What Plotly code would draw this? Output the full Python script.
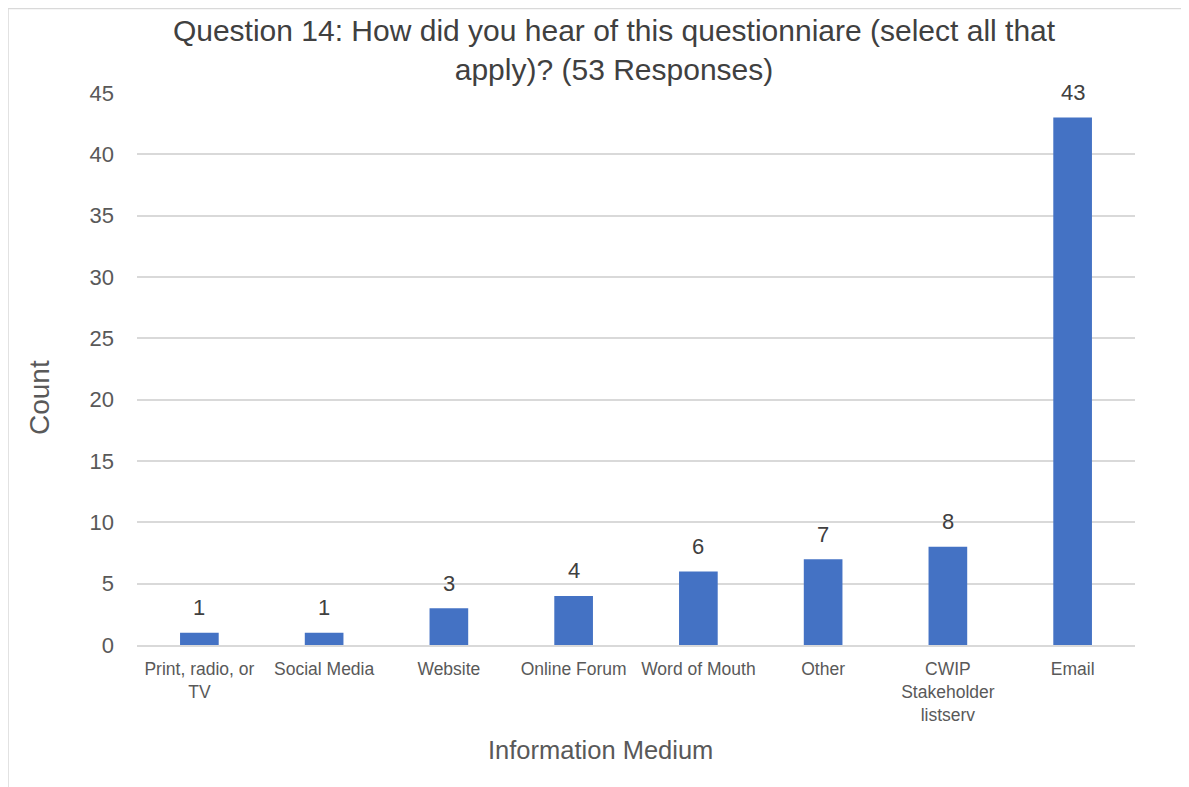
import plotly.graph_objects as go

categories = ["Print, radio, or<br>TV", "Social Media", "Website", "Online Forum",
              "Word of Mouth", "Other", "CWIP<br>Stakeholder<br>listserv", "Email"]
counts = [1, 1, 3, 4, 6, 7, 8, 43]
y_ticks = [0, 5, 10, 15, 20, 25, 30, 35, 40, 45]

FONT = "Liberation Sans, Arial, sans-serif"
OFF = 8  # page body margin
W, H = 1189 - OFF, 787 - OFF
L, R, T, B = 137 - OFF, 54, 93 - OFF, 142
pw, ph = W - L - R, H - T - B

fig = go.Figure(go.Bar(
    x=categories, y=counts,
    marker=dict(color="#4472C4", line=dict(width=0)),
    cliponaxis=False, width=0.31,
))

def px2x(p):
    return (p - OFF - L) / pw

def px2y(p):
    return (H - B - (p - OFF)) / ph

annotations = [dict(x=c, y=v, xref="x", yref="y", text=str(v), showarrow=False,
                    yanchor="middle", yshift=25,
                    font=dict(size=22, color="#404040", family=FONT))
               for c, v in zip(categories, counts)]
annotations.append(dict(text="Information Medium", xref="paper", yref="paper",
                        x=px2x(600), y=px2y(750), xanchor="center", yanchor="middle",
                        showarrow=False, font=dict(size=25.5, color="#595959", family=FONT)))
annotations.append(dict(text="Count", xref="paper", yref="paper", textangle=-90,
                        x=px2x(39), y=px2y(398), xanchor="center", yanchor="middle",
                        showarrow=False, font=dict(size=28, color="#595959", family=FONT)))

fig.update_layout(
    width=W, height=H,
    margin=dict(l=L, r=R, t=T, b=B),
    paper_bgcolor="white", plot_bgcolor="white",
    font=dict(family=FONT, color="#595959"),
    showlegend=False,
    title=dict(
        text="Question 14: How did you hear of this questionniare (select all that<br>apply)? (53 Responses)",
        x=(614 - OFF) / W, xanchor="center", y=1 - (41 - OFF) / H, yanchor="middle",
        font=dict(size=30, color="#404040", family=FONT),
    ),
    xaxis=dict(
        showgrid=False, showline=True, linecolor="#d9d9d9", linewidth=2,
        ticks="", ticklabelstandoff=7, tickfont=dict(size=17.5, color="#595959"),
    ),
    yaxis=dict(
        range=[0, 45], tickvals=y_ticks, showgrid=True, gridcolor="#d9d9d9", gridwidth=1.5,
        zeroline=False, showline=False, ticks="", ticklabelstandoff=22,
        tickfont=dict(size=22, color="#595959"),
    ),
    annotations=annotations,
    shapes=[dict(type="rect", xref="paper", yref="paper",
                 x0=px2x(8), x1=px2x(1187), y0=px2y(800), y1=px2y(8.5),
                 line=dict(color="#d9d9d9", width=1.5), fillcolor="rgba(0,0,0,0)", layer="below")],
)

fig.write_html("out.html")
